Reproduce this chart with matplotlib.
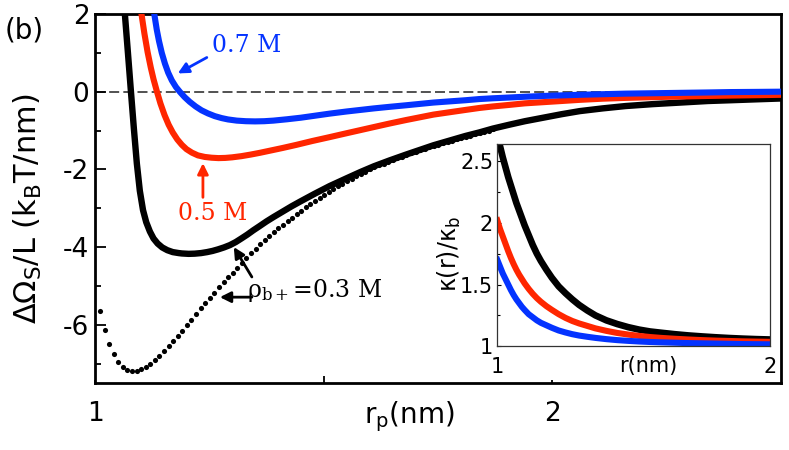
import numpy as np
import matplotlib
matplotlib.use("Agg")
from matplotlib import pyplot as plt

plt.rcParams['font.family'] = ['DejaVu Sans']
plt.rcParams['axes.unicode_minus'] = False
plt.rcParams['mathtext.fontset'] = 'dejavusans'

BLUE = '#0433ff'
RED = '#ff2600'

# main panel: free energy per length vs r_p (nm)
black_x = [1.062, 1.0655, 1.072, 1.0786, 1.085, 1.0915, 1.098, 1.105, 1.112, 1.120,
           1.128, 1.137, 1.147, 1.158, 1.170, 1.183, 1.19, 1.205, 1.218, 1.232,
           1.245, 1.257, 1.269, 1.282, 1.295, 1.308, 1.32, 1.333, 1.346, 1.36,
           1.375, 1.39, 1.41, 1.43, 1.45, 1.48, 1.513, 1.55, 1.58, 1.61,
           1.644, 1.68, 1.71, 1.74, 1.775, 1.81, 1.84, 1.87, 1.906, 1.94,
           1.98, 2.02, 2.06, 2.11, 2.16, 2.22, 2.28, 2.34, 2.39, 2.45, 2.50]
black_y = [2.5, 1.97, 1.0, 0.0, -0.95, -1.85, -2.55, -3.05, -3.36, -3.60,
           -3.78, -3.91, -4.01, -4.08, -4.13, -4.155, -4.165, -4.175, -4.17, -4.155,
           -4.13, -4.10, -4.06, -4.01, -3.95, -3.87, -3.78, -3.68, -3.57, -3.46,
           -3.34, -3.23, -3.09, -2.95, -2.82, -2.63, -2.43, -2.23, -2.07, -1.92,
           -1.77, -1.62, -1.50, -1.38, -1.26, -1.14, -1.05, -0.95, -0.85, -0.76,
           -0.67, -0.58, -0.50, -0.43, -0.37, -0.32, -0.28, -0.24, -0.22, -0.195, -0.175]

red_x = [1.098, 1.102, 1.108, 1.115, 1.122, 1.128, 1.135, 1.143, 1.152, 1.161,
         1.170, 1.180, 1.190, 1.200, 1.212, 1.225, 1.24, 1.255, 1.27, 1.285,
         1.30, 1.32, 1.34, 1.36, 1.382, 1.41, 1.44, 1.475, 1.513, 1.55,
         1.58, 1.61, 1.644, 1.68, 1.71, 1.74, 1.775, 1.81, 1.84, 1.87,
         1.906, 1.94, 1.98, 2.02, 2.06, 2.11, 2.16, 2.22, 2.28, 2.34,
         2.39, 2.45, 2.50]
red_y = [2.3, 1.97, 1.5, 1.02, 0.62, 0.32, 0.02, -0.30, -0.60, -0.85,
         -1.05, -1.23, -1.37, -1.48, -1.57, -1.64, -1.68, -1.70, -1.71, -1.705,
         -1.69, -1.66, -1.62, -1.575, -1.52, -1.45, -1.37, -1.27, -1.17, -1.07,
         -0.99, -0.91, -0.82, -0.73, -0.66, -0.59, -0.53, -0.47, -0.42, -0.38,
         -0.34, -0.30, -0.27, -0.24, -0.21, -0.18, -0.16, -0.14, -0.125, -0.11,
         -0.10, -0.09, -0.08]

blue_x = [1.126, 1.130, 1.135, 1.140, 1.146, 1.153, 1.160, 1.168, 1.177, 1.186,
          1.196, 1.207, 1.22, 1.233, 1.247, 1.262, 1.277, 1.291, 1.31, 1.33,
          1.35, 1.37, 1.39, 1.42, 1.45, 1.48, 1.513, 1.55, 1.58, 1.61,
          1.644, 1.68, 1.71, 1.74, 1.775, 1.81, 1.84, 1.87, 1.906, 1.94,
          1.98, 2.02, 2.06, 2.11, 2.16, 2.22, 2.28, 2.34, 2.39, 2.45, 2.50]
blue_y = [2.3, 1.97, 1.6, 1.3, 1.0, 0.72, 0.49, 0.29, 0.12, -0.01,
          -0.14, -0.26, -0.38, -0.48, -0.56, -0.63, -0.68, -0.715, -0.745, -0.76,
          -0.765, -0.76, -0.745, -0.71, -0.67, -0.62, -0.565, -0.51, -0.47, -0.43,
          -0.39, -0.35, -0.315, -0.28, -0.25, -0.22, -0.19, -0.17, -0.15, -0.13,
          -0.11, -0.095, -0.08, -0.065, -0.05, -0.04, -0.03, -0.02, -0.01, -0.005, 0.0]

# dotted curve, sampled every 0.01 nm from 1.011
dot_y = [-5.65, -6.14, -6.50, -6.76, -6.96, -7.09, -7.16, -7.19, -7.19, -7.15,
         -7.09, -7.01, -6.92, -6.81, -6.68, -6.56, -6.43, -6.30, -6.16, -6.01,
         -5.87, -5.73, -5.58, -5.45, -5.32, -5.18, -5.04, -4.90, -4.78, -4.66,
         -4.53, -4.40, -4.28, -4.15, -4.04, -3.93, -3.82, -3.72, -3.62, -3.52,
         -3.42, -3.33, -3.24, -3.15, -3.06, -2.98, -2.90, -2.82, -2.74, -2.66,
         -2.58, -2.51, -2.44, -2.37, -2.30, -2.24, -2.18, -2.12, -2.06, -2.00,
         -1.95, -1.90, -1.85, -1.80, -1.75, -1.71, -1.67, -1.63, -1.59, -1.55,
         -1.51, -1.47, -1.43, -1.40, -1.36, -1.33, -1.30, -1.27, -1.23, -1.20,
         -1.16, -1.13, -1.09, -1.06, -1.03, -1.00, -0.97]
dot_x = 1.011 + 0.01 * np.arange(len(dot_y))

# inset: kappa(r)/kappa_b
ins_x = [1.00, 1.01, 1.02, 1.03, 1.04, 1.05, 1.06, 1.07, 1.08, 1.09,
         1.10, 1.115, 1.13, 1.145, 1.16, 1.18, 1.20, 1.225, 1.25, 1.275,
         1.30, 1.33, 1.36, 1.40, 1.44, 1.48, 1.52, 1.56, 1.60, 1.65,
         1.70, 1.75, 1.80, 1.85, 1.90, 1.95, 2.00]
ins_black = [2.72, 2.62, 2.53, 2.45, 2.37, 2.30, 2.23, 2.16, 2.10, 2.04,
             1.98, 1.90, 1.82, 1.75, 1.69, 1.62, 1.555, 1.485, 1.43, 1.38,
             1.335, 1.29, 1.25, 1.21, 1.18, 1.155, 1.135, 1.12, 1.11, 1.098,
             1.088, 1.08, 1.073, 1.067, 1.062, 1.058, 1.055]
ins_red = [2.02, 1.95, 1.89, 1.83, 1.77, 1.715, 1.665, 1.62, 1.58, 1.545,
           1.51, 1.465, 1.425, 1.39, 1.36, 1.325, 1.295, 1.26, 1.23, 1.205,
           1.185, 1.165, 1.145, 1.125, 1.108, 1.095, 1.084, 1.075, 1.068, 1.061,
           1.055, 1.05, 1.046, 1.043, 1.04, 1.038, 1.036]
ins_blue = [1.70, 1.645, 1.59, 1.545, 1.50, 1.455, 1.415, 1.38, 1.35, 1.32,
            1.295, 1.26, 1.235, 1.21, 1.19, 1.17, 1.15, 1.128, 1.112, 1.098,
            1.087, 1.077, 1.068, 1.058, 1.05, 1.044, 1.039, 1.035, 1.032, 1.029,
            1.026, 1.024, 1.022, 1.02, 1.018, 1.017, 1.016]

fig = plt.figure(figsize=(7.89, 4.5), dpi=100)
ax = fig.add_axes([95/789, 1-383/450, 686/789, 369/450])

ax.axhline(0, color='#333333', lw=1.2, ls=(0, (6, 2.5)), zorder=1)
ax.plot(dot_x, dot_y, 'o', color='k', ms=3.7, mew=0, zorder=2)
ax.plot(black_x, black_y, color='k', lw=4.6, zorder=3)
ax.plot(red_x, red_y, color=RED, lw=4.4, zorder=4)
ax.plot(blue_x, blue_y, color=BLUE, lw=4.4, zorder=5)

ax.set_xlim(1, 2.5)
ax.set_ylim(-7.5, 2)
ax.set_xticks([1, 2])
ax.set_xticks([1.5], minor=True)
ax.set_yticks([-6, -4, -2, 0, 2])
ax.set_yticks([-7, -5, -3, -1, 1], minor=True)
ax.tick_params(axis='y', which='major', direction='in', length=8, width=1.3,
               labelsize=19, pad=4)
ax.tick_params(axis='y', which='minor', direction='in', length=4.3, width=1.3)
ax.tick_params(axis='x', which='major', direction='in', length=2, width=1.3,
               labelsize=19, pad=13)
ax.tick_params(axis='x', which='minor', direction='in', length=5, width=1.3)
for s in ax.spines.values():
    s.set_linewidth(2)

arr = dict(arrowstyle='-|>', lw=2, mutation_scale=16, shrinkA=0, shrinkB=0)
ax.annotate('', xy=(1.181, 0.47), xytext=(1.2445, 0.88),
            arrowprops=dict(arr, color=BLUE), zorder=6)
ax.annotate('', xy=(1.236, -1.84), xytext=(1.236, -2.72),
            arrowprops=dict(arr, color=RED), zorder=6)
ax.annotate('', xy=(1.3035, -4.0), xytext=(1.343, -4.77),
            arrowprops=dict(arr, color='k'), zorder=6)
ax.annotate('', xy=(1.273, -5.29), xytext=(1.343, -5.29),
            arrowprops=dict(arr, color='k'), zorder=6)

ax.text(1.2555, 1.19, '0.7 M', color=BLUE, family='DejaVu Serif',
        fontsize=17, ha='left', va='center')
ax.text(1.181, -3.13, '0.5 M', color=RED, family='DejaVu Serif',
        fontsize=17, ha='left', va='center')
ax.text(1.332, -5.29, r'ρ$_{\mathrm{b+}}$=0.3 M', color='k',
        family='DejaVu Serif', math_fontfamily='dejavuserif',
        fontsize=17, ha='left', va='baseline')

fig.text(24/789, 1-31/450, '(b)', fontsize=20, ha='center', va='center')
fig.text(28/789, 1-209/450, r'$\Delta\Omega_{\mathrm{S}}$/L (k$_{\mathrm{B}}$T/nm)',
         fontsize=22, rotation=90, ha='center', va='center')
fig.text(409/789, 1-423/450, r'r$_{\mathrm{p}}$(nm)', fontsize=20,
         ha='center', va='baseline')

# inset
ax2 = fig.add_axes([497.3/789, 1-346.3/450, 272.7/789, 202.6/450])
ax2.plot(ins_x, ins_black, color='k', lw=4.8)
ax2.plot(ins_x, ins_red, color=RED, lw=4.4)
ax2.plot(ins_x, ins_blue, color=BLUE, lw=4.4)
ax2.set_xlim(1, 2)
ax2.set_ylim(1, 2.64)
ax2.set_xticks([1, 2])
ax2.set_xticklabels(['1', '2'])
ax2.set_yticks([1, 1.5, 2, 2.5])
ax2.set_yticklabels(['1', '1.5', '2', '2.5'])
ax2.set_yticks([1.25, 1.75, 2.25], minor=True)
ax2.tick_params(axis='x', length=0, labelsize=15, pad=8)
ax2.tick_params(axis='y', which='major', direction='in', length=3, width=0.8,
                labelsize=15, pad=3)
ax2.tick_params(axis='y', which='minor', direction='in', length=2.5, width=0.8)
for s in ax2.spines.values():
    s.set_linewidth(0.9)
    s.set_color('#333333')

fig.text(648/789, 1-366/450, 'r(nm)', fontsize=15, ha='center', va='center')
fig.text(449/789, 1-254/450, r'κ(r)/κ$_{\mathrm{b}}$', fontsize=17,
         rotation=90, ha='center', va='center')

fig.savefig('out.png', dpi=100)
